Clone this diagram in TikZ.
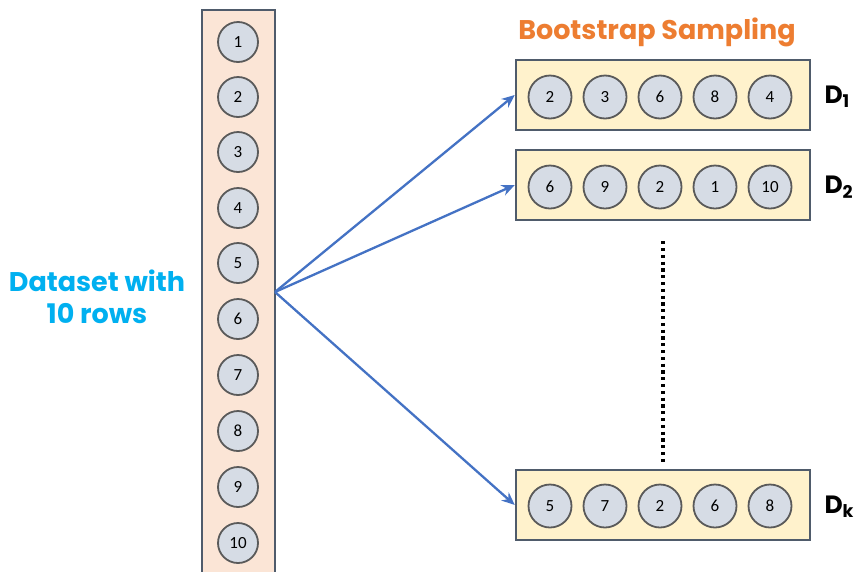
\documentclass[tikz,border=0pt]{standalone}
\usepackage{fontspec}
\setmainfont{Carlito}
\newfontfamily\headfont{Poppins}
\usetikzlibrary{arrows.meta}
\definecolor{peach}{HTML}{FBE5D6}
\definecolor{cream}{HTML}{FFF2CC}
\definecolor{ballfill}{HTML}{D6DCE5}
\definecolor{ballline}{HTML}{5A5A5A}
\definecolor{frameline}{HTML}{4F5B6B}
\definecolor{arrowblue}{HTML}{4472C4}
\definecolor{orangetxt}{HTML}{ED7D31}
\definecolor{cyantxt}{HTML}{00B0F0}
\tikzset{
  ball/.style={circle, draw=ballline, line width=1.8pt, fill=ballfill, minimum size=40pt, inner sep=0pt, font=\fontsize{17}{17}\selectfont},
  sball/.style={ball, minimum size=43pt},
  sample/.style={draw=frameline, line width=2.5pt, fill=cream, minimum width=294pt, minimum height=70pt, inner sep=0pt},
  conn/.style={draw=arrowblue, line width=2.3pt, -{Stealth[length=13pt,width=11pt]}},
  dlabel/.style={font=\headfont\bfseries\fontsize{25}{25}\selectfont, anchor=west}
}
\begin{document}
\begin{tikzpicture}[x=1pt,y=-1pt]
\useasboundingbox (0,0) rectangle (858,571);
\fill[white] (0,0) rectangle (858,571);
% dataset column
\fill[peach] (202,10) rectangle (275,572);
\draw[frameline, line width=2.5pt] (202,573) -- (202,10) -- (275,10) -- (275,573);
\coordinate (src) at (275,292);
\foreach \i/\y in {1/42,2/97,3/152,4/208,5/263,6/319,7/375,8/431,9/487,10/543}{
  \node[ball] (r\i) at (238,\y) {\i};
}
\node[font=\headfont\bfseries\fontsize{27}{32}\selectfont, text=cyantxt, align=center] (ds) at (97,297) {Dataset with\\10 rows};
% samples
\node[font=\headfont\bfseries\fontsize{27}{27}\selectfont, text=orangetxt] (title) at (657,32) {Bootstrap Sampling};
\node[sample] (s1) at (663,95) {};
\node[sample] (s2) at (663,185) {};
\node[sample] (sk) at (663,505) {};
\foreach \v [count=\j] in {2,3,6,8,4}{ \node[sball] (a\j) at (495+55*\j,97) {\v}; }
\foreach \v [count=\j] in {6,9,2,1,10}{ \node[sball] (b\j) at (495+55*\j,187) {\v}; }
\foreach \v [count=\j] in {5,7,2,6,8}{ \node[sball] (c\j) at (495+55*\j,506) {\v}; }
\node[dlabel] (d1) at (821,97) {D\textsubscript{1}};
\node[dlabel] (d2) at (821,187) {D\textsubscript{2}};
\node[dlabel] (dk) at (821,507) {D\textsubscript{k}};
\draw[line width=3.2pt, dash pattern=on 3.2pt off 3.6pt, black] (s2.south) ++(0,20) coordinate (dt) -- (663,462) coordinate (db);
% arrows
\draw[conn] (src) -- (s1.west);
\draw[conn] (src) -- (s2.west);
\draw[conn] (src) -- (sk.west);
\end{tikzpicture}
\end{document}
